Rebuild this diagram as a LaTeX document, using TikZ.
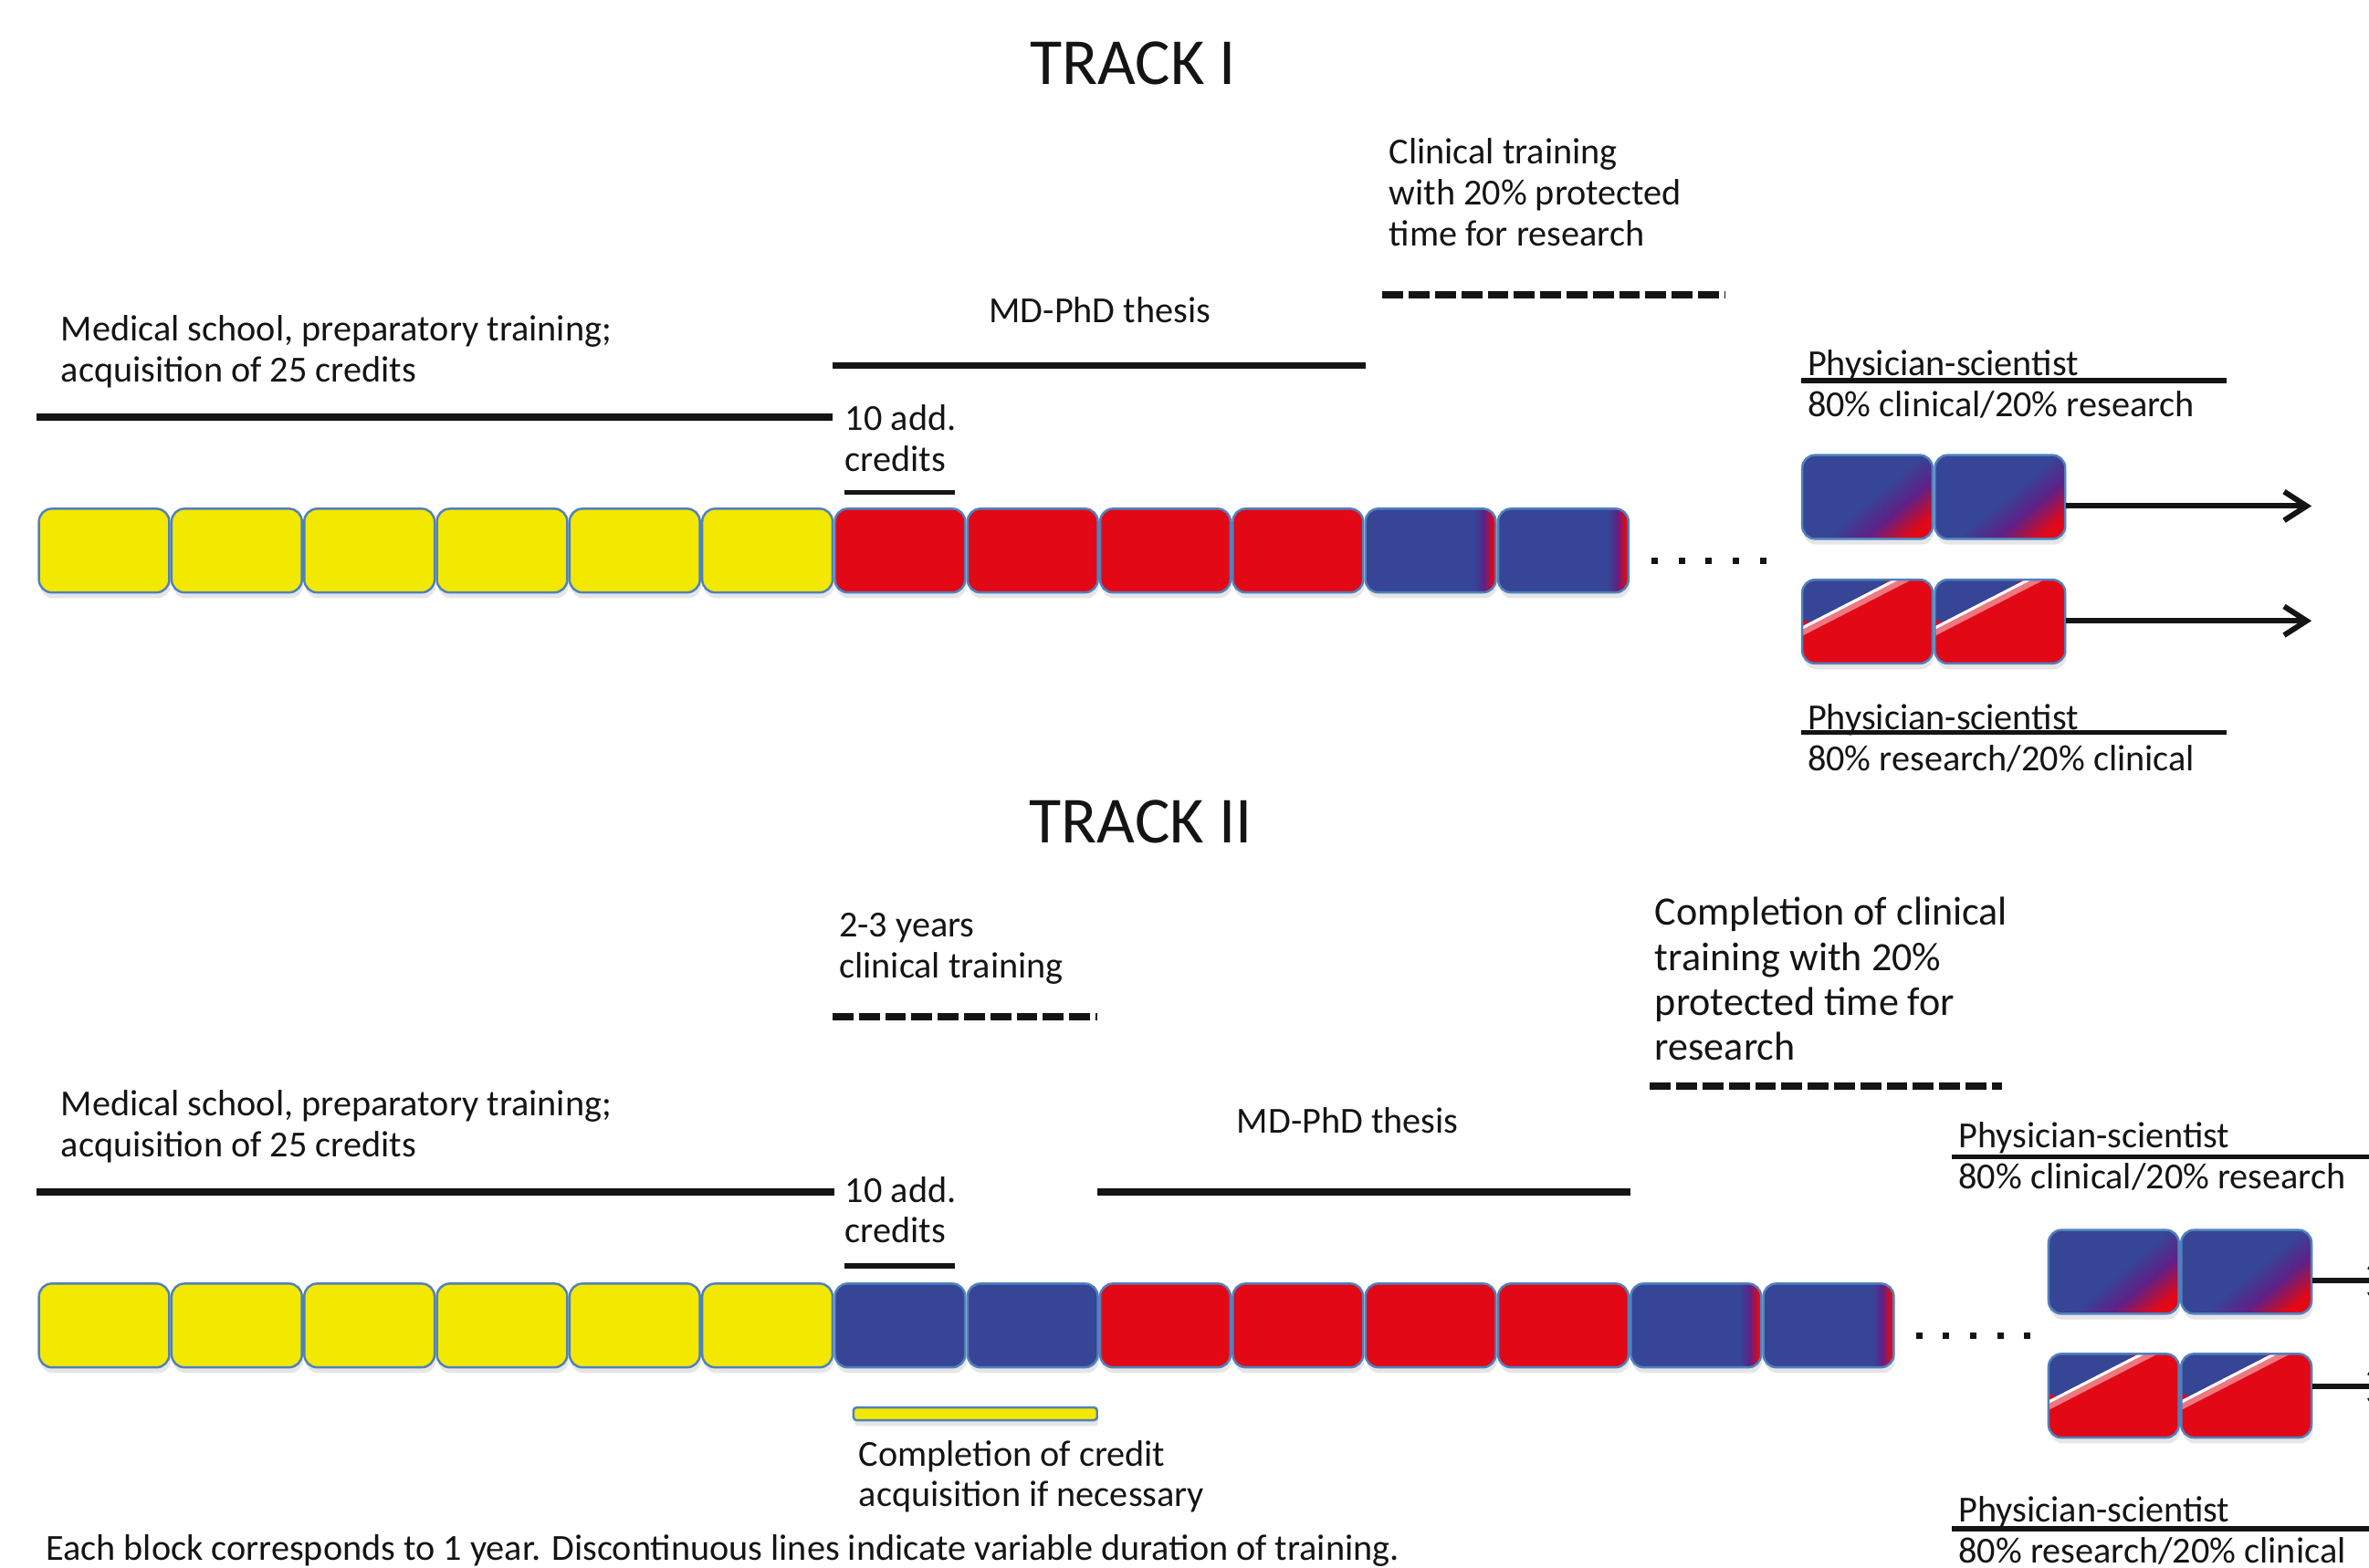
\documentclass[tikz,border=0pt]{standalone}
\usepackage{fontspec}
\setmainfont{Carlito}
\usetikzlibrary{arrows.meta,shadows,calc}

\definecolor{blockyellow}{RGB}{243,232,0}
\definecolor{blockred}{RGB}{226,8,22}
\definecolor{blockblue}{RGB}{54,69,150}
\definecolor{blockpurple}{RGB}{95,32,135}
\definecolor{blockedge}{RGB}{79,129,189}
\definecolor{inkblack}{RGB}{20,20,20}

\pgfdeclarehorizontalshading{edgeshade}{100bp}{color(0bp)=(blockblue); color(67bp)=(blockblue); color(70.5bp)=(blockpurple); color(74bp)=(blockred); color(100bp)=(blockred)}
\pgfdeclarehorizontalshading{diagshade}{100bp}{color(0bp)=(blockblue); color(52bp)=(blockblue); color(64bp)=(blockpurple); color(77bp)=(blockred); color(100bp)=(blockred)}

\tikzset{
  block/.style={draw=blockedge, line width=0.7pt, rounded corners=4pt,
    minimum width=1.428cm, minimum height=0.918cm, inner sep=0pt,
    drop shadow={shadow xshift=0.4pt, shadow yshift=-1.8pt, opacity=0.2}},
  yel/.style={fill=blockyellow},
  rd/.style={fill=blockred},
  bl/.style={fill=blockblue},
  bledge/.style={shading=edgeshade},
  diag/.style={shading=diagshade, shading angle=-50},
  split/.style={fill=blockred, path picture={
    \fill[blockblue] (path picture bounding box.north west)
      -- ($(path picture bounding box.north west)!0.7!(path picture bounding box.north east)$)
      -- ($(path picture bounding box.north west)!0.56!(path picture bounding box.south west)$) -- cycle;
    \draw[white, opacity=0.45, line width=2.4pt, shorten <=-6pt, shorten >=-6pt]
      ($(path picture bounding box.north west)!0.7!(path picture bounding box.north east)+(0.9pt,-1.1pt)$)
      -- ($(path picture bounding box.north west)!0.56!(path picture bounding box.south west)+(0.9pt,-1.1pt)$);
    \draw[white, line width=0.9pt, shorten <=-6pt, shorten >=-6pt]
      ($(path picture bounding box.north west)!0.7!(path picture bounding box.north east)+(0.2pt,-0.3pt)$)
      -- ($(path picture bounding box.north west)!0.56!(path picture bounding box.south west)+(0.2pt,-0.3pt)$);
  }},
  txt/.style={inner sep=0pt, align=left, text=inkblack, font=\fontsize{11.45}{12.8}\selectfont},
  bigtxt/.style={txt, font=\fontsize{12.55}{14}\selectfont},
  title/.style={inner sep=0pt, text=inkblack, font=\fontsize{20.5}{24}\selectfont},
  bar/.style={draw=inkblack, line width=2.2pt},
  thinbar/.style={draw=inkblack, line width=1.5pt},
  dashbar/.style={draw=inkblack, line width=2.4pt, dash pattern=on 6.5pt off 1.7pt},
  dots/.style={draw=inkblack, line width=2pt, dash pattern=on 2pt off 6.45pt},
  arr/.style={draw=inkblack, line width=1.7pt, -{Straight Barb[length=7pt,width=9pt]}},
}

\begin{document}
\begin{tikzpicture}[x=0.01655cm, y=-0.01655cm]

  \useasboundingbox (0,0) rectangle (1568,1038);

  % track I
  \node[title] (tt1) at (750,42) {TRACK I};
  \node[txt, anchor=west] (ct1) at (919,127.5) {Clinical training\\with 20\% protected\\time for research};
  \node[txt] (md1) at (728,205) {MD-PhD thesis};
  \node[txt, anchor=west] (ms1) at (40,232.5) {Medical school, preparatory training;\\acquisition of 25 credits};
  \node[txt, anchor=west] (ad1) at (559,290) {10 add.\\credits};
  \node[txt, anchor=west] (ps1) at (1196,254.5) {Physician-scientist\\80\% clinical/20\% research};
  \node[txt, anchor=west] (ps2) at (1196,488.5) {Physician-scientist\\80\% research/20\% clinical};

  \begin{scope}[every node/.style={block}]
    \node[yel]    (a1)  at (68.9,364.5)   {};
    \node[yel]    (a2)  at (156.7,364.5)  {};
    \node[yel]    (a3)  at (244.5,364.5)  {};
    \node[yel]    (a4)  at (332.3,364.5)  {};
    \node[yel]    (a5)  at (420.1,364.5)  {};
    \node[yel]    (a6)  at (507.9,364.5)  {};
    \node[rd]     (a7)  at (595.7,364.5)  {};
    \node[rd]     (a8)  at (683.5,364.5)  {};
    \node[rd]     (a9)  at (771.3,364.5)  {};
    \node[rd]     (a10) at (859.1,364.5)  {};
    \node[bledge] (a11) at (946.9,364.5)  {};
    \node[bledge] (a12) at (1034.7,364.5) {};
    \node[diag]   (p1)  at (1236,329)     {};
    \node[diag]   (p2)  at (1323.8,329)   {};
    \node[split]  (q1)  at (1236,411.5)   {};
    \node[split]  (q2)  at (1323.8,411.5) {};
  \end{scope}

  \coordinate (m1) at (24,276);   \coordinate (m2) at (551,276);
  \coordinate (m3) at (551,242);  \coordinate (m4) at (904,242);
  \coordinate (m5) at (915,195);  \coordinate (m6) at (1142,195);
  \coordinate (m7) at (559,326);  \coordinate (m8) at (632,326);
  \coordinate (m9) at (1192,252); \coordinate (m10) at (1474,252);
  \coordinate (m11) at (1192,485); \coordinate (m12) at (1474,485);
  \coordinate (d1) at (1093,371); \coordinate (d2) at (1172,371);
  \coordinate (e1) at (1530,335); \coordinate (e2) at (1530,411);

  \draw[bar] (m1) -- (m2);
  \draw[bar] (m3) -- (m4);
  \draw[dashbar] (m5) -- (m6);
  \draw[thinbar] (m7) -- (m8);
  \draw[thinbar] (m9) -- (m10);
  \draw[thinbar] (m11) -- (m12);
  \draw[dots] (d1) -- (d2);
  \draw[arr] (p2.east |- e1) -- (e1);
  \draw[arr] (q2.east |- e2) -- (e2);

  % track II
  \node[title] (tt2) at (755,544) {TRACK II};
  \node[txt, anchor=west] (ct2) at (555,628) {2-3 years\\clinical training};
  \node[bigtxt, anchor=west] (cc2) at (1095,648) {Completion of clinical\\training with 20\%\\protected time for\\research};
  \node[txt] (md2) at (892,742) {MD-PhD thesis};
  \node[txt, anchor=west] (ms2) at (40,745.5) {Medical school, preparatory training;\\acquisition of 25 credits};
  \node[txt, anchor=west] (ad2) at (559,801) {10 add.\\credits};
  \node[txt, anchor=west] (ps3) at (1296,765.5) {Physician-scientist\\80\% clinical/20\% research};
  \node[txt, anchor=west] (ps4) at (1296,1013) {Physician-scientist\\80\% research/20\% clinical};
  \node[txt, anchor=west] (cr2) at (568,977.5) {Completion of credit\\acquisition if necessary};
  \node[txt, anchor=west] (nt) at (30,1026.5) {Each block corresponds to 1 year. Discontinuous lines indicate variable duration of training.};

  \begin{scope}[every node/.style={block}]
    \node[yel]    (b1)  at (68.9,877.5)   {};
    \node[yel]    (b2)  at (156.7,877.5)  {};
    \node[yel]    (b3)  at (244.5,877.5)  {};
    \node[yel]    (b4)  at (332.3,877.5)  {};
    \node[yel]    (b5)  at (420.1,877.5)  {};
    \node[yel]    (b6)  at (507.9,877.5)  {};
    \node[bl]     (b7)  at (595.7,877.5)  {};
    \node[bl]     (b8)  at (683.5,877.5)  {};
    \node[rd]     (b9)  at (771.3,877.5)  {};
    \node[rd]     (b10) at (859.1,877.5)  {};
    \node[rd]     (b11) at (946.9,877.5)  {};
    \node[rd]     (b12) at (1034.7,877.5) {};
    \node[bledge] (b13) at (1122.5,877.5) {};
    \node[bledge] (b14) at (1210.3,877.5) {};
    \node[diag]   (r1)  at (1399,842)     {};
    \node[diag]   (r2)  at (1486.8,842)   {};
    \node[split]  (s1)  at (1399,924)     {};
    \node[split]  (s2)  at (1486.8,924)   {};
    \node[yel, rounded corners=1pt, minimum width=2.67cm, minimum height=0.14cm] (yb) at (645.5,936) {};
  \end{scope}

  \coordinate (n1) at (24,789);    \coordinate (n2) at (552,789);
  \coordinate (n3) at (726,789);   \coordinate (n4) at (1079,789);
  \coordinate (n5) at (551,673);   \coordinate (n6) at (726,673);
  \coordinate (n7) at (1092,719);  \coordinate (n8) at (1325,719);
  \coordinate (n9) at (559,838);   \coordinate (n10) at (632,838);
  \coordinate (n11) at (1292,766); \coordinate (n12) at (1600,766);
  \coordinate (n13) at (1292,1012); \coordinate (n14) at (1600,1012);
  \coordinate (d3) at (1268,884);  \coordinate (d4) at (1347,884);
  \coordinate (e3) at (1586,848);  \coordinate (e4) at (1586,918);

  \draw[bar] (n1) -- (n2);
  \draw[bar] (n3) -- (n4);
  \draw[dashbar] (n5) -- (n6);
  \draw[dashbar] (n7) -- (n8);
  \draw[thinbar] (n9) -- (n10);
  \draw[thinbar] (n11) -- (n12);
  \draw[thinbar] (n13) -- (n14);
  \draw[dots] (d3) -- (d4);
  \draw[arr] (r2.east |- e3) -- (e3);
  \draw[arr] (s2.east |- e4) -- (e4);

\end{tikzpicture}
\end{document}
